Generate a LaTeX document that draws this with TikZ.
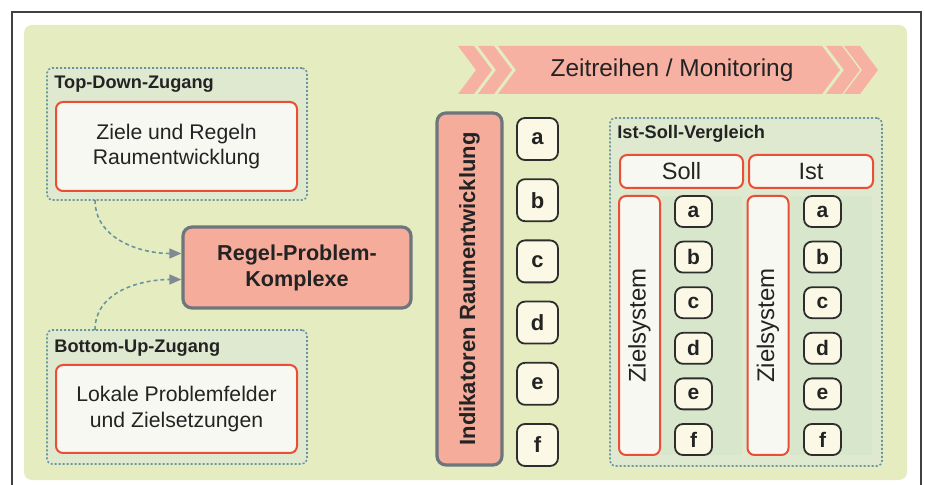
\documentclass[tikz,border=0pt]{standalone}
\usepackage{fontspec}
\setmainfont{Liberation Sans}
\usepackage{tikz}
\usetikzlibrary{arrows.meta,positioning}
\usepackage{xcolor}
\definecolor{zgback}{RGB}{229,237,192}
\definecolor{zgfill}{RGB}{222,233,208}
\definecolor{zgcol}{RGB}{216,231,204}
\definecolor{zgdot}{RGB}{105,150,160}
\definecolor{zgred}{RGB}{234,78,52}
\definecolor{zgwhite}{RGB}{248,248,242}
\definecolor{zgsalmon}{RGB}{245,172,155}
\definecolor{zgbanner}{RGB}{247,177,162}
\definecolor{zggray}{RGB}{108,118,124}
\definecolor{zgcream}{RGB}{251,249,230}
\definecolor{zgdark}{RGB}{45,45,45}
\definecolor{zgtip}{RGB}{128,138,148}
\definecolor{zgtext}{RGB}{35,35,35}
\tikzstyle{group} = [rectangle, rounded corners=2.5pt, draw=zgdot, dash pattern=on 1pt off 1pt, line width=0.8pt, fill=zgfill]
\tikzstyle{inbox} = [rectangle, rounded corners=3.5pt, draw=zgred, fill=zgwhite, line width=1pt, text=zgtext, align=center, font=\fontsize{10.6}{12.8}\selectfont]
\tikzstyle{core} = [rectangle, rounded corners=4.5pt, draw=zggray, fill=zgsalmon, line width=1.6pt, text=zgtext, align=center, font=\bfseries\fontsize{10.8}{13}\selectfont]
\tikzstyle{letter} = [rectangle, rounded corners=4pt, draw=zgdark, fill=zgcream, line width=0.9pt, minimum width=20.5pt, minimum height=21pt, inner sep=0pt, text=zgtext, font=\bfseries\fontsize{11}{13}\selectfont]
\tikzstyle{smallletter} = [letter, minimum width=18.5pt, minimum height=15.5pt, rounded corners=4pt, font=\bfseries\fontsize{10.5}{12}\selectfont]
\tikzstyle{grouplabel} = [anchor=west, inner sep=0pt, text=zgtext, font=\bfseries\fontsize{9.1}{11}\selectfont]
\tikzstyle{arrow} = [dash pattern=on 2pt off 1.5pt, line width=0.8pt, draw=zgdot, -{Triangle[length=6pt,width=5pt,color=zgtip]}]

\begin{document}
\begin{tikzpicture}[x=0.5pt, y=-0.5pt, node distance=30.6pt]
\useasboundingbox (0,0) rectangle (925,485);
% Frame and background
\draw[line width=0.6pt, color=black!75] (12,12) rectangle (921,500);
\fill[zgback, rounded corners=4pt] (24,25) rectangle (907,480);

% Approaches
\node (topgrp) [group, minimum width=130pt, minimum height=66pt] at (177,134) {};
\node (toplabel) [grouplabel] at (54,84) {Top-Down-Zugang};
\node (topbox) [inbox, minimum width=120.5pt, minimum height=44.5pt] at (176.5,146.5) {Ziele und Regeln\\Raumentwicklung};
\node (botgrp) [group, minimum width=130pt, minimum height=67pt] at (177,397) {};
\node (botlabel) [grouplabel] at (54,348) {Bottom-Up-Zugang};
\node (botbox) [inbox, minimum width=120.5pt, minimum height=44pt] at (176.5,409) {Lokale Problemfelder\\und Zielsetzungen};

% Core node
\node (regel) [core, minimum width=114pt, minimum height=40.5pt] at (297,267.5) {Regel-Problem-\\Komplexe};

% Arrows
\coordinate (topout) at (95,200);
\coordinate (botout) at (95,330);
\draw[arrow] (topout) to[out=-90, in=180] ([yshift=7pt]regel.west);
\draw[arrow] (botout) to[out=90, in=180] ([yshift=-6pt]regel.west);

% Banner
\fill[zgbanner] (458,46) -- (474,46) -- (492,70) -- (474,94) -- (458,94) -- (476,70) -- cycle;
\fill[zgbanner] (478,46) -- (494,46) -- (512,70) -- (494,94) -- (478,94) -- (496,70) -- cycle;
\fill[zgbanner] (498,46) -- (822,46) -- (840,70) -- (822,94) -- (498,94) -- (516,70) -- cycle;
\fill[zgbanner] (826,46) -- (842,46) -- (860,70) -- (842,94) -- (826,94) -- (844,70) -- cycle;
\fill[zgbanner] (844,46) -- (860,46) -- (878,70) -- (860,94) -- (844,94) -- (862,70) -- cycle;
\node (banner) [text=zgtext, font=\fontsize{12.2}{14}\selectfont] at (672,70) {Zeitreihen / Monitoring};

% Indicators
\node (indik) [core, rotate=90, minimum width=176pt, minimum height=32.5pt, font=\bfseries\fontsize{11}{13}\selectfont] at (469.5,289) {Indikatoren Raumentwicklung};
\node (ia) [letter] at (537.5,139) {a};
\node (ib) [letter, below of=ia] {b};
\node (ic) [letter, below of=ib] {c};
\node (id) [letter, below of=ic] {d};
\node (ie) [letter, below of=id] {e};
\node (if) [letter, below of=ie] {f};

% Comparison
\node (vergl) [group, minimum width=136pt, minimum height=174pt] at (746,292) {};
\fill[zgcol] (661,196) rectangle (742,455);
\fill[zgcol] (790,196) rectangle (872,455);
\node (vergllabel) [grouplabel] at (617,134) {Ist-Soll-Vergleich};
\node (soll) [inbox, minimum width=61.5pt, minimum height=16.5pt, font=\fontsize{11.8}{13}\selectfont] at (681.5,171.5) {Soll};
\node (ist) [inbox, minimum width=62pt, minimum height=16.5pt, font=\fontsize{11.8}{13}\selectfont] at (811,171.5) {Ist};
\node (zsoll) [inbox, rotate=90, minimum width=129.5pt, minimum height=20.5pt, font=\fontsize{12}{14}\selectfont] at (639.5,325.5) {Zielsystem};
\node (zist) [inbox, rotate=90, minimum width=129.5pt, minimum height=20.5pt, font=\fontsize{12}{14}\selectfont] at (768,325.5) {Zielsystem};
\node (sa) [smallletter] at (693.5,211.5) {a};
\node (sb) [smallletter, node distance=22.8pt, below of=sa] {b};
\node (sc) [smallletter, node distance=22.8pt, below of=sb] {c};
\node (sd) [smallletter, node distance=22.8pt, below of=sc] {d};
\node (se) [smallletter, node distance=22.8pt, below of=sd] {e};
\node (sf) [smallletter, node distance=22.8pt, below of=se] {f};
\node (ta) [smallletter] at (822.5,211.5) {a};
\node (tb) [smallletter, node distance=22.8pt, below of=ta] {b};
\node (tc) [smallletter, node distance=22.8pt, below of=tb] {c};
\node (td) [smallletter, node distance=22.8pt, below of=tc] {d};
\node (te) [smallletter, node distance=22.8pt, below of=td] {e};
\node (tf) [smallletter, node distance=22.8pt, below of=te] {f};
\end{tikzpicture}
\end{document}
